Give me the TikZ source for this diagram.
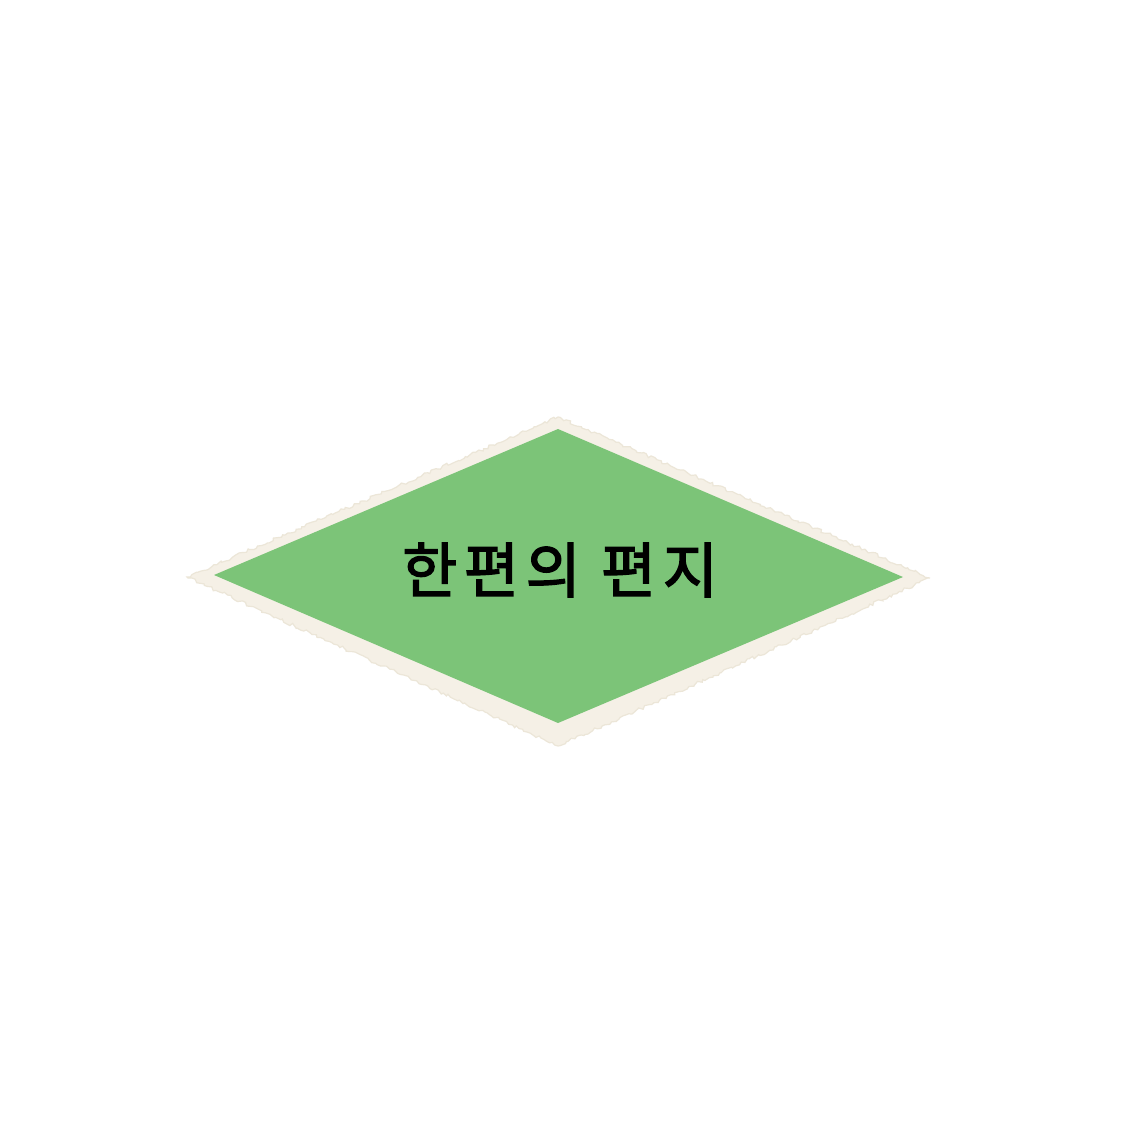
\documentclass[tikz,border=0pt]{standalone}
\usepackage{fontspec}
\newfontfamily\krfont[FakeBold=2.2,LetterSpace=11]{Noto Sans CJK KR}
\usetikzlibrary{decorations.pathmorphing}
\definecolor{stampcream}{RGB}{245,240,230}
\definecolor{stampedge}{RGB}{236,230,216}
\definecolor{diamondgreen}{RGB}{124,196,120}
\begin{document}
\begin{tikzpicture}[x=1pt,y=-1pt,
  stampborder/.style={fill=stampcream,draw=stampedge,line width=1.2pt,
    decorate,decoration={random steps,segment length=3pt,amplitude=1.6pt}},
  greenface/.style={fill=diamondgreen,draw=none},
  labeltext/.style={font=\krfont\fontsize{60}{66}\selectfont,text=black,inner sep=0pt}]
\useasboundingbox (0,0) rectangle (1125,1125);
\fill[white] (0,0) rectangle (1125,1125);
\path[stampborder] (558,417) -- (930,578) -- (558,746) -- (187,577) -- cycle;
\path[greenface] (558,429) -- (903,577) -- (558,723) -- (214,575) -- cycle;
\node[labeltext] (label) at (560,570) {한편의 편지};
\end{tikzpicture}
\end{document}
